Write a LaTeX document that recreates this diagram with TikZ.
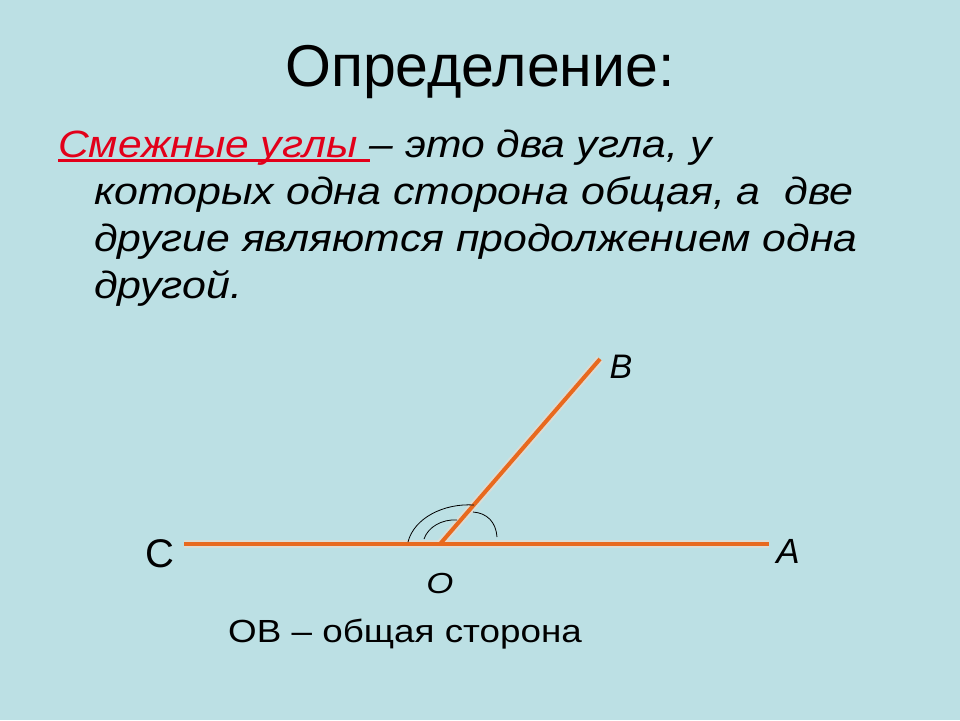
\documentclass[tikz,border=0pt]{standalone}
\usepackage{fontspec}
\setmainfont{Liberation Sans}
\definecolor{bg}{HTML}{BCE0E4}
\definecolor{seg}{HTML}{E8691E}
\definecolor{redt}{HTML}{E2001A}
\newcommand\ulred[1]{\setbox0\hbox{#1}\rlap{\rule[-0.12em]{\wd0}{0.055em}}\box0}
\newcommand\wide[2]{\scalebox{#1}[1]{#2}}
\tikzset{
  body/.style={anchor=base west, inner sep=0pt, font=\fontsize{38}{44}\selectfont\itshape},
  seglabel/.style={inner sep=0pt, anchor=base},
  segline/.style={seg, line width=4pt},
  halo/.style={white!75!seg, opacity=0.5, line width=8pt},
  arcmark/.style={black, line width=0.8pt},
}
\begin{document}
\begin{tikzpicture}[x=1pt,y=-1pt]
\fill[bg] (0,0) rectangle (960,720);
\useasboundingbox (0,0) rectangle (960,720);
\node[anchor=base, inner sep=0pt, font=\fontsize{59}{72}\selectfont] (title) at (480,86) {Определение:};
\node[body] (l1) at (58,157) {\wide{1.12}{\textcolor{redt}{\ulred{Смежные углы }}– это два угла, у}};
\node[body] (l2) at (94,204) {\wide{1.13}{которых одна сторона общая, а\ \ две}};
\node[body] (l3) at (94,251) {\wide{1.125}{другие являются продолжением одна}};
\node[body] (l4) at (94,298) {\wide{1.13}{другой.}};
% points
\coordinate (C) at (184,544);
\coordinate (A) at (769,544);
\coordinate (O) at (440,544);
\coordinate (B) at (600,359);
\draw[halo] (C) -- (A);
\draw[halo] (O) -- (B);
\draw[segline] (C) -- (A);
\draw[segline] (O) -- (B);
% angle marks
\coordinate (a1s) at (408,542);
\coordinate (a1e) at (474,505);
\coordinate (a2s) at (424,539);
\coordinate (a2e) at (457,520);
\coordinate (a3s) at (473,512);
\coordinate (a3e) at (497,537);
\draw[arcmark] (a1s) .. controls (414,518) and (444,503) .. (a1e);
\draw[arcmark] (a2s) .. controls (428,527) and (442,519) .. (a2e);
\draw[arcmark] (a3s) .. controls (487,513) and (496,522) .. (a3e);
% labels
\node[seglabel, font=\fontsize{34}{40}\selectfont\itshape] (lB) at (621,378) {B};
\node[seglabel, font=\fontsize{35}{40}\selectfont\itshape] (lA) at (788,563) {A};
\node[seglabel, font=\fontsize{40}{48}\selectfont] (lC) at (160,567) {C};
\node[seglabel, font=\fontsize{29}{34}\selectfont\itshape] (lO) at (440,593) {\wide{1.2}{O}};
\node[seglabel, font=\fontsize{32}{38}\selectfont] (cap) at (405,642) {\wide{1.15}{OB – общая сторона}};
\end{tikzpicture}
\end{document}
